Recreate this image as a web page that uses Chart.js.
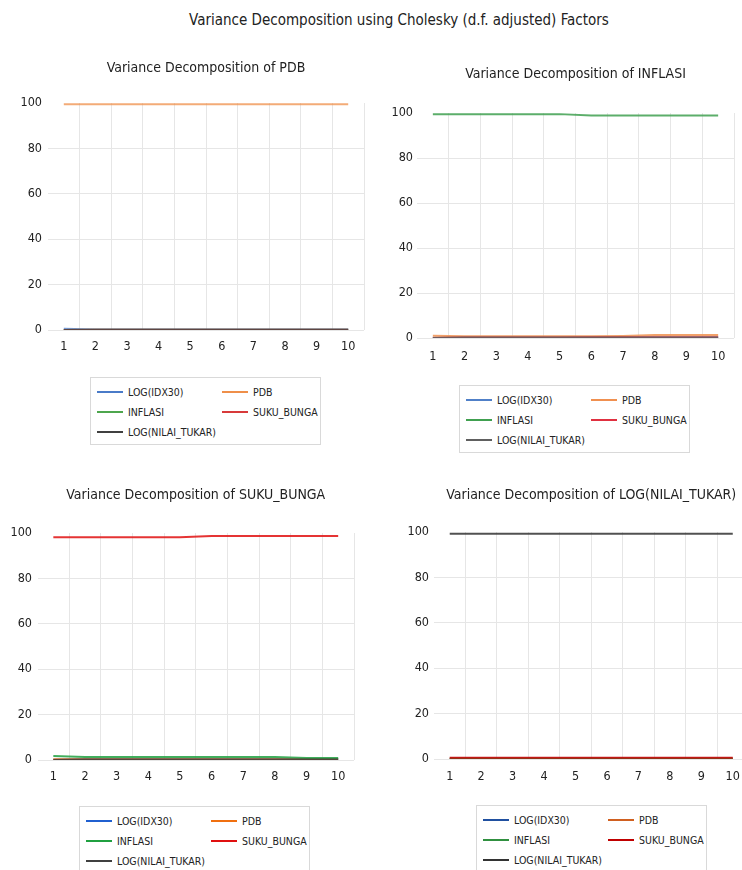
<!DOCTYPE html>
<html>
<head>
<meta charset="utf-8">
<script src="https://cdn.jsdelivr.net/npm/chart.js@4.4.1/dist/chart.umd.min.js"></script>
<style>
  html, body { margin:0; padding:0; background:#fff; overflow:hidden; }
  body { width:742px; height:870px; position:relative; font-family:"DejaVu Sans Condensed","Liberation Sans Narrow",sans-serif; color:#222; }
  #mainTitle { position:absolute; left:0; top:8px; width:798px; text-align:center; font-size:15px; line-height:24px; }
  .cv { position:absolute; }
  .legend { position:absolute; width:229px; height:66px; border:1px solid #d9d9d9; box-sizing:content-box; }
  .li { position:absolute; height:14px; font-size:10.5px; line-height:14px; white-space:nowrap; }
  .li span.sw { position:absolute; left:0; top:6px; width:26px; height:2px; }
  .li span.tx { position:absolute; left:31px; top:0; }
</style>
</head>
<body>
<div id="mainTitle">Variance Decomposition using Cholesky (d.f. adjusted) Factors</div>

<canvas id="c1" class="cv"></canvas>
<canvas id="c2" class="cv"></canvas>
<canvas id="c3" class="cv"></canvas>
<canvas id="c4" class="cv"></canvas>
<div id="lg1" class="legend"></div>
<div id="lg2" class="legend"></div>
<div id="lg3" class="legend"></div>
<div id="lg4" class="legend"></div>

<script>
// ---------- DATA ----------
const periods = ['1','2','3','4','5','6','7','8','9','10'];
const seriesNames = ['LOG(IDX30)','PDB','INFLASI','SUKU_BUNGA','LOG(NILAI_TUKAR)'];
const yTickValues = [0,20,40,60,80,100];

const panelTitles = [
  'Variance Decomposition of PDB',
  'Variance Decomposition of INFLASI',
  'Variance Decomposition of SUKU_BUNGA',
  'Variance Decomposition of LOG(NILAI_TUKAR)'
];

// Variance Decomposition of PDB
const pdb_idx30   = [0.6, 0.2, 0.2, 0.2, 0.2, 0.2, 0.2, 0.2, 0.2, 0.2];
const pdb_pdb     = [99.4, 99.5, 99.5, 99.5, 99.5, 99.5, 99.5, 99.5, 99.5, 99.5];
const pdb_inflasi = [0.0, 0.1, 0.1, 0.1, 0.1, 0.1, 0.1, 0.1, 0.1, 0.1];
const pdb_suku    = [0.0, 0.1, 0.1, 0.1, 0.1, 0.1, 0.1, 0.1, 0.1, 0.1];
const pdb_nilai   = [0.0, 0.1, 0.1, 0.1, 0.1, 0.1, 0.1, 0.1, 0.1, 0.1];

// Variance Decomposition of INFLASI
const inf_idx30   = [0.1, 0.2, 0.2, 0.2, 0.2, 0.2, 0.2, 0.2, 0.2, 0.2];
const inf_pdb     = [1.0, 0.8, 0.8, 0.8, 0.8, 0.8, 0.9, 1.3, 1.3, 1.3];
const inf_inflasi = [99.5, 99.5, 99.5, 99.5, 99.5, 98.9, 98.9, 98.9, 98.9, 98.9];
const inf_suku    = [0.0, 0.2, 0.2, 0.2, 0.2, 0.3, 0.3, 0.3, 0.3, 0.3];
const inf_nilai   = [0.0, 0.2, 0.2, 0.2, 0.2, 0.2, 0.2, 0.2, 0.2, 0.2];

// Variance Decomposition of SUKU_BUNGA
const sb_idx30    = [0.1, 0.3, 0.3, 0.3, 0.3, 0.3, 0.3, 0.3, 0.3, 0.3];
const sb_pdb      = [0.3, 0.3, 0.3, 0.3, 0.3, 0.3, 0.3, 0.3, 0.3, 0.3];
const sb_inflasi  = [1.8, 1.3, 1.3, 1.3, 1.3, 1.3, 1.3, 1.3, 0.9, 0.9];
const sb_suku     = [98.1, 98.1, 98.1, 98.1, 98.1, 98.7, 98.7, 98.7, 98.7, 98.7];
const sb_nilai    = [0.0, 0.2, 0.2, 0.2, 0.2, 0.2, 0.2, 0.2, 0.2, 0.2];

// Variance Decomposition of LOG(NILAI_TUKAR)
const nt_idx30    = [0.1, 0.1, 0.1, 0.1, 0.1, 0.1, 0.1, 0.1, 0.1, 0.1];
const nt_pdb      = [0.2, 0.2, 0.2, 0.2, 0.2, 0.2, 0.2, 0.2, 0.2, 0.2];
const nt_inflasi  = [0.0, 0.0, 0.0, 0.0, 0.0, 0.0, 0.0, 0.0, 0.0, 0.0];
const nt_suku     = [0.6, 0.6, 0.6, 0.6, 0.6, 0.6, 0.6, 0.6, 0.6, 0.6];
const nt_nilai    = [99.2, 99.2, 99.2, 99.2, 99.2, 99.2, 99.2, 99.2, 99.2, 99.2];

// ---------- STYLES / LAYOUT ----------
const palettes = [
  ['#4a7bc8','#ef8f4a','#4ea64e','#d83a3a','#404040'],
  ['#5080c8','#f09050','#40a050','#e03040','#606060'],
  ['#2060d0','#f07010','#20a040','#e01010','#404040'],
  ['#2050a0','#d06020','#309040','#c00000','#333333']
];
const lineAlpha = [0.75, 0.85, 0.85, 0.85];

// canvas rect (page), chart area (page), title centre y (page), tick paddings
const layouts = [
  {L:0,   T:45,  R:371, B:360, cl:48,   cr:364, ct:103, cb:330, tcy:68,  yPad:6,   xPad:9},
  {L:378, T:45,  R:742, B:370, cl:417,  cr:734, ct:113, cb:338, tcy:74,  yPad:4,   xPad:11},
  {L:0,   T:470, R:371, B:800, cl:37.5, cr:354, ct:533, cb:760, tcy:495, yPad:5.5, xPad:9},
  {L:380, T:470, R:750, B:800, cl:434,  cr:750, ct:532, cb:759, tcy:495, yPad:5,   xPad:10}
];
const legendPos = [
  {x:90,  y:377},
  {x:459, y:385},
  {x:79,  y:806},
  {x:476, y:805}
];

const panelData = [
  [pdb_idx30, pdb_pdb, pdb_inflasi, pdb_suku, pdb_nilai],
  [inf_idx30, inf_pdb, inf_inflasi, inf_suku, inf_nilai],
  [sb_idx30, sb_pdb, sb_inflasi, sb_suku, sb_nilai],
  [nt_idx30, nt_pdb, nt_inflasi, nt_suku, nt_nilai]
];

const FONT = '"DejaVu Sans Condensed","Liberation Sans Narrow",sans-serif';
const TITLE_SIZE = 14, TICK_SIZE = 12.5;
Chart.defaults.font.family = FONT;
Chart.defaults.color = '#222';

function withAlpha(hex, a) {
  const r = parseInt(hex.slice(1,3),16), g = parseInt(hex.slice(3,5),16), b = parseInt(hex.slice(5,7),16);
  return `rgba(${r},${g},${b},${a})`;
}

function makePanel(i) {
  const lay = layouts[i];
  const W = lay.R - lay.L, H = lay.B - lay.T;
  const cv = document.getElementById('c' + (i+1));
  cv.style.left = lay.L + 'px'; cv.style.top = lay.T + 'px';
  cv.width = W; cv.height = H;
  cv.style.width = W + 'px'; cv.style.height = H + 'px';

  const axisW = lay.cl - lay.L;
  const padR = lay.R - lay.cr;
  const titleLH = TITLE_SIZE * 1.2;
  const tPadTop = (lay.tcy - lay.T) - titleLH/2;
  const tPadBot = (lay.ct - lay.T) - tPadTop - titleLH;
  const xAxisH = lay.B - lay.cb;

  const datasets = seriesNames.map((name, k) => ({
    label: name,
    data: panelData[i][k],
    borderColor: withAlpha(palettes[i][k], lineAlpha[i]),
    backgroundColor: palettes[i][k],
    borderWidth: 2,
    pointRadius: 0,
    tension: 0,
    fill: false,
    order: -k
  }));

  new Chart(cv, {
    type: 'line',
    data: { labels: periods, datasets },
    options: {
      responsive: false,
      devicePixelRatio: 1,
      animation: false,
      layout: { padding: { left: 0, right: padR, top: 0, bottom: 0 } },
      plugins: {
        legend: { display: false },
        tooltip: { enabled: false },
        title: {
          display: true,
          fullSize: false,
          text: panelTitles[i],
          font: { size: TITLE_SIZE, weight: 'normal', family: FONT },
          color: '#222',
          padding: { top: tPadTop, bottom: tPadBot }
        }
      },
      scales: {
        x: {
          type: 'category',
          offset: true,
          border: { display: false },
          grid: {
            offset: true,
            drawTicks: false,
            color: (ctx) => (ctx.index === 0 || ctx.index === periods.length) ? 'rgba(0,0,0,0)' : '#e6e6e6',
            lineWidth: 1
          },
          ticks: { font: { size: TICK_SIZE, family: FONT }, color: '#222', padding: lay.xPad, maxRotation: 0, autoSkip: false },
          afterFit: (s) => { s.height = xAxisH; }
        },
        y: {
          min: 0, max: 100,
          border: { display: false },
          grid: {
            drawTicks: false,
            color: (ctx) => (ctx.tick && ctx.tick.value === 100) ? 'rgba(0,0,0,0)' : '#e6e6e6',
            lineWidth: 1
          },
          afterBuildTicks: (s) => { s.ticks = yTickValues.map(v => ({ value: v })); },
          ticks: { font: { size: TICK_SIZE, family: FONT }, color: '#222', padding: lay.yPad },
          afterFit: (s) => { s.width = axisW; }
        }
      }
    }
  });

  // legend
  const lg = document.getElementById('lg' + (i+1));
  lg.style.left = legendPos[i].x + 'px';
  lg.style.top = legendPos[i].y + 'px';
  const cols = [6, 131], rows = [13.5, 33.5, 54];
  seriesNames.forEach((name, k) => {
    const it = document.createElement('div');
    it.className = 'li';
    it.style.left = cols[k % 2] + 'px';
    it.style.top = (rows[Math.floor(k/2)] - 7) + 'px';
    it.innerHTML = `<span class="sw" style="background:${palettes[i][k]}"></span><span class="tx">${name}</span>`;
    lg.appendChild(it);
  });
}

for (let i = 0; i < 4; i++) makePanel(i);
</script>
</body>
</html>
